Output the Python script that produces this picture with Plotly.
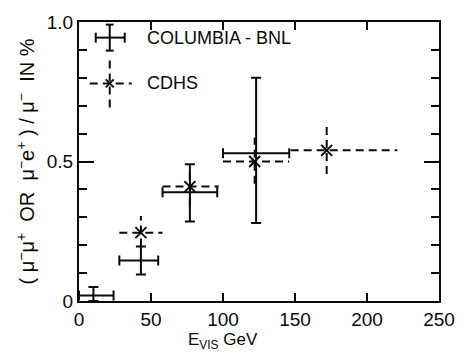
import plotly.graph_objects as go

# Columbia-BNL (solid crosses with caps)
x_cb = [10, 43, 77, 123]
y_cb = [0.02, 0.145, 0.39, 0.53]
xlo_cb = [0, 28, 58, 100]
xhi_cb = [24, 55, 96, 146]
ylo_cb = [0.0, 0.095, 0.285, 0.28]
yhi_cb = [0.05, 0.195, 0.49, 0.80]

# CDHS (dashed crosses, x markers)
x_cd = [43, 77, 122, 172]
y_cd = [0.245, 0.41, 0.50, 0.54]
xlo_cd = [28, 58, 100, 147]
xhi_cd = [58, 97, 146, 221]
ylo_cd = [0.195, 0.34, 0.42, 0.455]
yhi_cd = [0.305, 0.48, 0.585, 0.625]

x_ticks = [0, 50, 100, 150, 200, 250]
y_ticks = [0, 0.5, 1.0]
y_ticktext = ["0", "0.5", "1.0"]
y_minor = [0.1, 0.2, 0.3, 0.4, 0.6, 0.7, 0.8, 0.9]

INK = "#0a0a0a"
FONT = "Liberation Sans"

fig = go.Figure()

fig.add_trace(go.Scatter(
    x=x_cb, y=y_cb, mode="markers",
    marker=dict(size=1, color=INK),
    error_x=dict(type="data", symmetric=False,
                 array=[h - c for h, c in zip(xhi_cb, x_cb)],
                 arrayminus=[c - l for l, c in zip(xlo_cb, x_cb)],
                 color=INK, thickness=2, width=5),
    error_y=dict(type="data", symmetric=False,
                 array=[h - c for h, c in zip(yhi_cb, y_cb)],
                 arrayminus=[c - l for l, c in zip(ylo_cb, y_cb)],
                 color=INK, thickness=2, width=5),
    showlegend=False, cliponaxis=False,
))

seg_x, seg_y = [], []
for c, v, l, h in zip(x_cd, y_cd, xlo_cd, xhi_cd):
    seg_x += [l, h, None]
    seg_y += [v, v, None]
for c, v, l, h in zip(x_cd, y_cd, ylo_cd, yhi_cd):
    seg_x += [c, c, None]
    seg_y += [l, h, None]

fig.add_trace(go.Scatter(
    x=seg_x, y=seg_y, mode="lines",
    line=dict(color=INK, width=2, dash="8px,5px"),
    showlegend=False, connectgaps=False,
))
fig.add_trace(go.Scatter(
    x=x_cd, y=y_cd, mode="markers",
    marker=dict(symbol="x-thin-open", size=11, line=dict(width=2, color=INK), color=INK),
    showlegend=False,
))

# Legend glyphs (layout shapes, pixel sized, anchored in paper coords)
shapes = []
def pline(ax, ay, x0, y0, x1, y1, dash="solid"):
    shapes.append(dict(type="line", xref="paper", yref="paper",
                       xsizemode="pixel", ysizemode="pixel",
                       xanchor=ax, yanchor=ay,
                       x0=x0, y0=y0, x1=x1, y1=y1,
                       line=dict(color=INK, width=2, dash=dash)))

cx, cy1, cy2 = 0.0854, 0.944, 0.780
pline(cx, cy1, -14, 0, 15, 0)
pline(cx, cy1, -14, -5, -14, 5)
pline(cx, cy1, 15, -5, 15, 5)
pline(cx, cy1, 0, -13, 0, 13)
pline(cx, cy1, -4, 13, 4, 13)
pline(cx, cy1, -4, -13, 4, -13)

pline(cx, cy2, -20, 0, 22, 0, dash="8px,5px")
pline(cx, cy2, 0, -24, 0, 24, dash="8px,5px")
pline(cx, cy2, -4, -4, 4, 4)
pline(cx, cy2, -4, 4, 4, -4)

annotations = [
    dict(text="COLUMBIA - BNL", x=0.182, y=cy1, xref="paper", yref="paper",
         xanchor="left", yanchor="middle", showarrow=False,
         font=dict(size=18, family=FONT, color=INK)),
    dict(text="CDHS", x=0.182, y=cy2, xref="paper", yref="paper",
         xanchor="left", yanchor="middle", showarrow=False,
         font=dict(size=18, family=FONT, color=INK)),
    dict(text="E<sub>VIS</sub> GeV", x=0.40, y=-0.143, xref="paper", yref="paper",
         xanchor="center", yanchor="middle", showarrow=False,
         font=dict(size=17, family=FONT, color=INK)),
    dict(text="( μ<sup>−</sup>μ<sup>+</sup>  OR  μ<sup>−</sup>e<sup>+</sup> ) / μ<sup>−</sup>  IN %",
         x=-0.15, y=0.50, xref="paper", yref="paper", textangle=-90,
         xanchor="center", yanchor="middle", showarrow=False,
         font=dict(size=20, family=FONT, color=INK)),
]

fig.update_layout(
    width=467, height=355,
    margin=dict(l=79, r=25, t=14, b=54),
    paper_bgcolor="white", plot_bgcolor="white",
    font=dict(family=FONT, color=INK),
    shapes=shapes, annotations=annotations,
    xaxis=dict(range=[0, 250], tickvals=x_ticks, ticks="inside", ticklen=8,
               tickwidth=2, tickcolor=INK, showline=True, linewidth=2,
               linecolor=INK, mirror="ticks", showgrid=False, zeroline=False,
               tickfont=dict(size=19, family=FONT, color=INK)),
    yaxis=dict(range=[0, 1.0], tickvals=y_ticks, ticktext=y_ticktext,
               ticks="inside", ticklen=15, tickwidth=2, tickcolor=INK,
               showline=True, linewidth=2, linecolor=INK, mirror="ticks",
               showgrid=False, zeroline=False,
               minor=dict(tickvals=y_minor, ticks="inside", ticklen=8,
                          tickwidth=2, tickcolor=INK, showgrid=False),
               tickfont=dict(size=19, family=FONT, color=INK)),
)

fig.write_html("out.html")
